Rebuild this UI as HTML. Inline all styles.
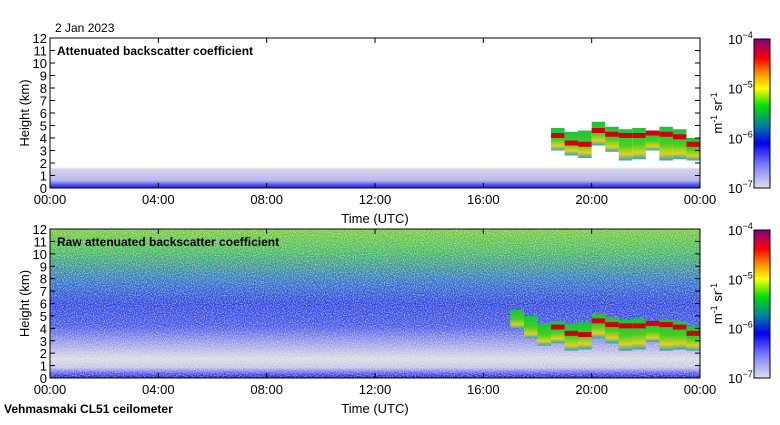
<!DOCTYPE html>
<html><head><meta charset="utf-8"><style>
body{margin:0;background:#fff;}
svg text{font-family:"Liberation Sans",sans-serif;fill:#000;}
</style></head><body>
<svg id="c" width="780" height="420" viewBox="0 0 780 420" xmlns="http://www.w3.org/2000/svg">
<defs>
<linearGradient id="cbar" x1="0" y1="1" x2="0" y2="0">
<stop offset="0" stop-color="#e0e0e8"/><stop offset="0.15" stop-color="#8080ff"/><stop offset="0.3" stop-color="#0000ee"/>
<stop offset="0.42" stop-color="#0080a0"/><stop offset="0.55" stop-color="#00e000"/><stop offset="0.67" stop-color="#ffff00"/>
<stop offset="0.78" stop-color="#ff8000"/><stop offset="0.87" stop-color="#ff0000"/><stop offset="1" stop-color="#800080"/>
</linearGradient>
<linearGradient id="topbg" x1="0" y1="0" x2="0" y2="1">
<stop offset="0" stop-color="#fff"/><stop offset="0.86" stop-color="#fff"/><stop offset="0.875" stop-color="#d4d4e8"/>
<stop offset="0.95" stop-color="#b8b8f0"/><stop offset="0.98" stop-color="#5050f0"/><stop offset="1" stop-color="#2020e0"/>
</linearGradient>
<linearGradient id="botbg" x1="0" y1="0" x2="0" y2="1">
<stop offset="0" stop-color="#78c838"/><stop offset="0.15" stop-color="#40b858"/><stop offset="0.35" stop-color="#2c70c8"/>
<stop offset="0.5" stop-color="#2840e0"/><stop offset="0.65" stop-color="#4050e8"/><stop offset="0.78" stop-color="#a0a0e8"/>
<stop offset="0.87" stop-color="#d8d8e0"/><stop offset="0.93" stop-color="#c0c0ec"/><stop offset="0.97" stop-color="#5050e8"/><stop offset="1" stop-color="#1010d0"/>
</linearGradient>
<linearGradient id="cloud" x1="0" y1="0" x2="0" y2="1">
<stop offset="0" stop-color="#20c040"/><stop offset="0.5" stop-color="#40d020"/><stop offset="0.8" stop-color="#e0d020"/><stop offset="1" stop-color="#30a0c0"/>
</linearGradient>
<filter id="noise" x="0" y="0" width="100%" height="100%">
<feTurbulence type="fractalNoise" baseFrequency="0.9" numOctaves="1" seed="3"/>
<feColorMatrix values="0 0 0 0 1  0 0 0 0 1  0 0 0 0 1  0 0 0 3 -1.2"/>
</filter>
</defs>
<text x="55" y="32" font-size="12">2 Jan 2023</text>
<g id="p1"></g>
<g id="p2"></g>
<text x="4" y="413" font-size="12" font-weight="bold">Vehmasmaki CL51 ceilometer</text>
</svg>
<script>
const xTicks=["00:00","04:00","08:00","12:00","16:00","20:00","00:00"];
const yTicks=[0,1,2,3,4,5,6,7,8,9,10,11,12];
const cbLabels=["-4","-5","-6","-7"];
const cloudHours=[18.5,19,19.5,20,20.5,21,21.5,22,22.5,23,23.5,24];
const cloudTop=[4.8,4.5,4.6,5.3,4.9,4.7,4.8,4.6,4.9,4.7,4.0,4.3];
const cloudBase=[3.0,2.6,2.4,3.4,2.9,2.2,2.3,3.0,2.2,2.3,2.2,2.5];
const cloudCore=[4.2,3.6,3.5,4.6,4.3,4.2,4.2,4.4,4.3,4.1,3.5,3.6];
const rawCloudHours=[17,17.5,18,18.5,19,19.5,20,20.5,21,21.5,22,22.5,23,23.5,24];
const rawCloudTop=[5.5,5.0,4.4,4.6,4.4,4.5,5.2,4.9,4.7,4.8,4.6,4.7,4.6,4.2,4.3];
const rawCloudBase=[4.0,3.2,2.6,2.8,2.2,2.3,3.2,2.8,2.2,2.3,2.9,2.2,2.3,2.2,2.5];
const rawCloudCore=[null,null,null,4.1,3.6,3.5,4.6,4.3,4.2,4.2,4.4,4.3,4.1,3.6,3.6];
const NS="http://www.w3.org/2000/svg";
const X0=50,X1=700;
function xs(h){return X0+(X1-X0)*h/24;}
function mk(tag,attrs,parent){const e=document.createElementNS(NS,tag);for(const k in attrs)e.setAttribute(k,attrs[k]);parent.appendChild(e);return e;}
function panel(g,top,bottom,title,bg,hours,tops,bases,cores){
  const ys=km=>bottom-(bottom-top)*km/12;
  const b=mk('rect',{x:X0,y:top,width:X1-X0,height:bottom-top,fill:'url(#'+bg+')'},g);
  
  
  if(bg==='botbg'){
    const n=mk('rect',{x:X0,y:top,width:X1-X0,height:bottom-top,filter:'url(#noise)',opacity:0.55},g);
    
    
  }
  for(let i=0;i<hours.length-1;i++){
    const x=xs(hours[i]),w=xs(hours[i+1])-x;
    const r=mk('rect',{x:x,y:ys(tops[i]),width:w,height:ys(bases[i])-ys(tops[i]),fill:'url(#cloud)'},g);
    
    
    if(cores[i]!==null){
      const c=mk('rect',{x:x,y:ys(cores[i]+0.2),width:w,height:ys(cores[i]-0.2)-ys(cores[i]+0.2),fill:'#d00010'},g);
      
      
    }
  }
  const f=mk('rect',{x:X0,y:top,width:X1-X0,height:bottom-top,fill:'none',stroke:'#000','stroke-width':1},g);
  
  
  yTicks.forEach(v=>{
    const y=ys(v);
    mk('line',{x1:X0,x2:X0+5,y1:y,y2:y,stroke:'#000'},g);
    mk('line',{x1:X1-5,x2:X1,y1:y,y2:y,stroke:'#000'},g);
    const t=mk('text',{x:X0-3,y:y+5,'font-size':13,'text-anchor':'end'},g);
    t.textContent=v;
    
    
  });
  xTicks.forEach((lab,i)=>{
    const x=xs(i*4);
    mk('line',{x1:x,x2:x,y1:top,y2:top+5,stroke:'#000'},g);
    mk('line',{x1:x,x2:x,y1:bottom-5,y2:bottom,stroke:'#000'},g);
    const t=mk('text',{x:x,y:bottom+16,'font-size':13,'text-anchor':'middle'},g);
    t.textContent=lab;
    
    
  });
  const tt=mk('text',{x:57,y:top+17,'font-size':12,'font-weight':'bold'},g);
  tt.textContent=title;
  
  
  const yl=mk('text',{x:0,y:0,'font-size':13,'text-anchor':'middle',transform:'translate(29,'+((top+bottom)/2)+') rotate(-90)'},g);
  yl.textContent='Height (km)';
  
  
  const xl=mk('text',{x:375,y:bottom+35,'font-size':13,'text-anchor':'middle'},g);
  xl.textContent='Time (UTC)';
  
  
  const cb=mk('rect',{x:754,y:top+1,width:16,height:bottom-top-1,fill:'url(#cbar)',stroke:'#000'},g);
  
  
  cbLabels.forEach((e,i)=>{
    const y=top+1+i*(bottom-top-1)/3;
    const t=mk('text',{x:728,y:y+5,'font-size':13},g);
    t.innerHTML='10<tspan font-size="9" dy="-6">'+e.replace('-','\u2212')+'</tspan>';
    
    
  });
  const u=mk('text',{x:0,y:0,'font-size':13,'text-anchor':'middle',transform:'translate(722,'+((top+bottom)/2)+') rotate(-90)'},g);
  u.innerHTML='m<tspan font-size="9" dy="-5">-1</tspan><tspan dy="5"> sr</tspan><tspan font-size="9" dy="-5">-1</tspan>';
  
  
}
panel(document.getElementById('p1'),38,188,'Attenuated backscatter coefficient','topbg',cloudHours,cloudTop,cloudBase,cloudCore);
panel(document.getElementById('p2'),229,378,'Raw attenuated backscatter coefficient','botbg',rawCloudHours,rawCloudTop,rawCloudBase,rawCloudCore);
</script>
</body></html>
